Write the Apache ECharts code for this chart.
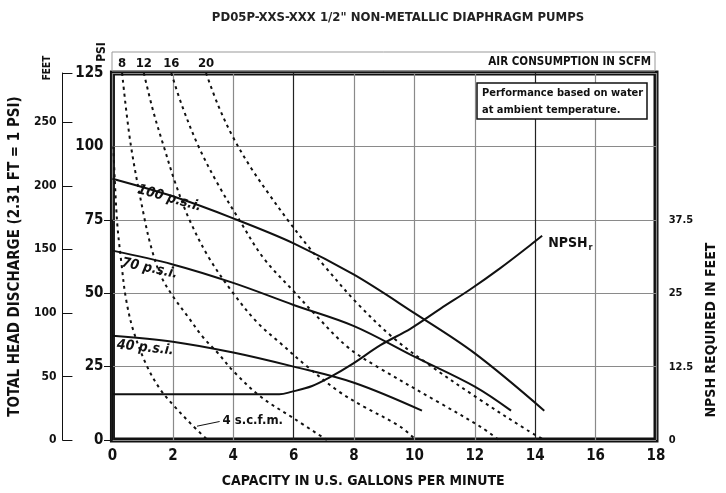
<!DOCTYPE html>
<html>
<head>
<meta charset="utf-8">
<script src="https://cdn.jsdelivr.net/npm/echarts@6/dist/echarts.min.js"></script>
<style>
  html, body { margin: 0; padding: 0; background: #fff; }
  #chart { width: 726px; height: 493px; }
</style>
</head>
<body>
<div id="chart"></div>
<script>
// performance curves, capacity (gpm) -> discharge head (psi)
const psi100X = [0, 2, 4, 6, 8, 10, 12, 14.3];
const psi100Y = [89, 83, 75.5, 67, 56.3, 43.2, 29.5, 10];
const psi70X = [0, 2, 4, 6, 8, 10, 12, 13.2];
const psi70Y = [64.5, 59.8, 53.5, 46, 38.8, 28.4, 18.2, 10];
const psi40X = [0, 2, 4, 6, 8, 10.25];
const psi40Y = [35.5, 33.5, 29.8, 25, 19.5, 10];

// NPSH required, in feet (right hand scale)
const npshX = [0, 5.6, 6.0, 6.7, 7.3, 8, 9, 10, 11, 12, 13, 14, 14.4];
const npshY = [7.8, 7.8, 8.2, 9.2, 10.7, 12.8, 16.2, 19, 22.4, 25.7, 29.3, 33.2, 34.8];

// air consumption lines (scfm), psi
const scfm4X = [0.03, 0.15, 0.3, 0.45, 0.7, 1.15, 1.6, 2.05, 2.6, 3.15];
const scfm4Y = [100, 75, 60, 48, 37, 25, 17, 11.5, 5.5, 0];
const scfm8X = [0.32, 0.6, 1.05, 1.3, 1.6, 2.0, 2.5, 3.0, 3.5, 4.0, 4.9, 6.0, 7.1];
const scfm8Y = [125, 101, 76, 65, 56, 49, 42, 35, 29.5, 23.5, 14.8, 7.4, 0];
const scfm12X = [1.04, 1.35, 1.7, 2.1, 2.55, 3.2, 4.0, 4.8, 5.56, 6.45, 7.5, 8.32, 9.54, 10.05];
const scfm12Y = [125, 112, 100, 87, 75, 62, 50, 40, 33, 25, 16.5, 11.4, 4.5, 0];
const scfm16X = [1.95, 2.3, 2.85, 3.5, 4.2, 5.0, 6.06, 6.67, 7.77, 8.76, 10.86, 12.19, 12.8];
const scfm16Y = [125, 114, 100, 87, 75, 62, 50, 43.2, 31.8, 25, 12.5, 4.5, 0];
const scfm20X = [3.1, 3.5, 4.0, 4.6, 5.2, 5.8, 6.4, 7.0, 8.1, 9.31, 10.42, 12.19, 13.73, 14.3];
const scfm20Y = [125, 114, 103, 92.5, 83.5, 75, 67, 59.5, 46.6, 34.7, 26.1, 13.6, 3.4, 0];

// axes
const gpmMax = 18;
const psiMax = 125;
const ftPerPsi = 2.31;
const npshMax = 37.5;

const FONT = "'Liberation Sans Narrow', 'DejaVu Sans Condensed', 'Liberation Sans', sans-serif";
const INK = '#111';

function pairs(xs, ys) {
    return xs.map(function (x, i) { return [x, ys[i]]; });
}

// solid pump curve with its rotated p.s.i. tag
function pumpCurve(name, xs, ys, tagAt, tagRotate) {
    return {
        name: name,
        type: 'line',
        data: pairs(xs, ys),
        smooth: 0.35,
        showSymbol: false,
        lineStyle: { color: INK, width: 2 },
        markPoint: {
            symbol: 'circle',
            symbolSize: 0,
            data: [{ coord: tagAt, value: name }],
            label: {
                show: true,
                position: 'inside',
                formatter: '{c}',
                rotate: tagRotate,
                color: INK,
                fontFamily: FONT,
                fontStyle: 'italic',
                fontWeight: 'bold',
                fontSize: 14
            }
        }
    };
}

// dashed air consumption line, labelled at the top edge
function airLine(name, xs, ys, topLabel) {
    const s = {
        name: name,
        type: 'line',
        data: pairs(xs, ys),
        smooth: 0.35,
        showSymbol: false,
        lineStyle: { color: INK, width: 2, type: [3, 4] }
    };
    if (topLabel) {
        s.markPoint = {
            symbol: 'circle',
            symbolSize: 0,
            data: [{ coord: [xs[0], ys[0]], value: name }],
            label: {
                show: true,
                position: 'top',
                distance: 3,
                formatter: '{c}',
                color: INK,
                fontFamily: FONT,
                fontWeight: 'bold',
                fontSize: 13
            }
        };
    }
    return s;
}

const chart = echarts.init(document.getElementById('chart'));

const splitColors = ['#8a8a8a', '#8a8a8a', '#8a8a8a', '#222', '#8a8a8a', '#8a8a8a', '#8a8a8a', '#222', '#8a8a8a', '#8a8a8a'];

const scfm4 = airLine('4', scfm4X, scfm4Y, false);
scfm4.markLine = {
    silent: true,
    symbol: ['none', 'none'],
    lineStyle: { color: INK, width: 1, type: 'solid' },
    data: [[{ coord: [2.8, 4.7] }, { coord: [3.55, 6.3] }]],
    label: {
        show: true,
        position: 'end',
        distance: 3,
        formatter: '4 s.c.f.m.',
        color: INK,
        fontFamily: FONT,
        fontWeight: 'bold',
        fontSize: 13
    }
};

const optionData = {
    animation: false,
    backgroundColor: '#fff',
    title: {
        text: 'PD05P-XXS-XXX 1/2" NON-METALLIC DIAPHRAGM PUMPS',
        left: 393,
        top: 6,
        textAlign: 'center',
        textStyle: { fontFamily: FONT, fontWeight: 'bold', fontSize: 13, color: '#222' }
    },
    grid: [
        { left: 112, right: 70, top: 73, bottom: 53, show: true, borderWidth: 5, borderColor: INK },
        { left: 112, right: 70, top: 220, bottom: 53, show: false }
    ],
    xAxis: [
        {
            type: 'value',
            gridIndex: 0,
            min: 0,
            max: gpmMax,
            interval: 2,
            name: 'CAPACITY IN U.S. GALLONS PER MINUTE',
            nameLocation: 'middle',
            nameGap: 34,
            nameTextStyle: { fontFamily: FONT, fontWeight: 'bold', fontSize: 14, color: INK, padding: [0, 42, 0, 0] },
            axisLine: { show: false },
            axisTick: { show: false },
            axisLabel: { margin: 9, fontFamily: FONT, fontWeight: 'bold', fontSize: 15, color: INK },
            splitLine: { show: true, lineStyle: { color: splitColors, width: 1.2 } }
        },
        { type: 'value', gridIndex: 1, min: 0, max: gpmMax, show: false }
    ],
    yAxis: [
        {
            type: 'value',
            gridIndex: 0,
            min: 0,
            max: psiMax,
            interval: 25,
            axisLine: { show: false },
            axisTick: { show: false },
            axisLabel: { margin: 9, fontFamily: FONT, fontWeight: 'bold', fontSize: 15, color: INK },
            splitLine: { show: true, lineStyle: { color: '#8a8a8a', width: 1.2 } }
        },
        {
            type: 'value',
            gridIndex: 0,
            position: 'left',
            offset: 50,
            min: 0,
            max: psiMax * ftPerPsi,
            interval: 50,
            name: 'TOTAL HEAD DISCHARGE (2.31 FT = 1 PSI)',
            nameLocation: 'middle',
            nameGap: 34,
            nameTextStyle: { fontFamily: FONT, fontWeight: 'bold', fontSize: 15, color: INK },
            axisLine: { show: true, lineStyle: { color: INK, width: 1 } },
            axisTick: { show: true, inside: true, length: 10, lineStyle: { color: INK } },
            axisLabel: {
                margin: 6,
                fontFamily: FONT, fontWeight: 'bold', fontSize: 12, color: INK,
                formatter: function (v) { return v % 50 === 0 ? String(v) : ''; }
            },
            splitLine: { show: false }
        },
        {
            type: 'value',
            gridIndex: 1,
            position: 'right',
            offset: 14,
            min: 0,
            max: npshMax,
            interval: 12.5,
            name: 'NPSH REQUIRED IN FEET',
            nameLocation: 'middle',
            nameGap: 38,
            nameTextStyle: { fontFamily: FONT, fontWeight: 'bold', fontSize: 14, color: INK },
            axisLine: { show: true, lineStyle: { color: INK, width: 1 } },
            axisTick: { show: true, inside: true, length: 8, lineStyle: { color: INK } },
            axisLabel: { margin: 5, fontFamily: FONT, fontWeight: 'bold', fontSize: 11, color: INK },
            splitLine: { show: false }
        }
    ],
    series: [
        pumpCurve('100 p.s.i.', psi100X, psi100Y, [1.89, 82.3], -16),
        pumpCurve('70 p.s.i.', psi70X, psi70Y, [1.23, 58.4], -12),
        pumpCurve('40 p.s.i.', psi40X, psi40Y, [1.09, 31.4], -6),
        {
            name: 'NPSH',
            type: 'line',
            xAxisIndex: 1,
            yAxisIndex: 2,
            data: pairs(npshX, npshY),
            smooth: 0.35,
            showSymbol: false,
            lineStyle: { color: INK, width: 2 },
            endLabel: {
                show: true,
                distance: 6,
                offset: [0, 8],
                formatter: '{a|NPSH}{b|r}',
                rich: {
                    a: { fontFamily: FONT, fontWeight: 'bold', fontSize: 14, color: INK },
                    b: { fontFamily: FONT, fontWeight: 'bold', fontSize: 9, color: INK, padding: [8, 0, 0, 1] }
                }
            }
        },
        scfm4,
        airLine('8', scfm8X, scfm8Y, true),
        airLine('12', scfm12X, scfm12Y, true),
        airLine('16', scfm16X, scfm16Y, true),
        airLine('20', scfm20X, scfm20Y, true)
    ],
    graphic: [
        {
            type: 'rect', z: 100,
            shape: { x: 112, y: 52, width: 543, height: 19 },
            style: { fill: 'none', stroke: '#999', lineWidth: 1 }
        },
        {
            type: 'text', z: 100, x: 651, y: 62,
            style: { text: 'AIR CONSUMPTION IN SCFM', align: 'right', verticalAlign: 'middle',
                     fontFamily: FONT, fontWeight: 'bold', fontSize: 11.5, fill: INK }
        },
        {
            type: 'text', z: 100, x: 102, y: 52, rotation: Math.PI / 2,
            style: { text: 'PSI', align: 'center', verticalAlign: 'middle',
                     fontFamily: FONT, fontWeight: 'bold', fontSize: 12, fill: INK }
        },
        {
            type: 'text', z: 100, x: 47, y: 68, rotation: Math.PI / 2,
            style: { text: 'FEET', align: 'center', verticalAlign: 'middle',
                     fontFamily: FONT, fontWeight: 'bold', fontSize: 10, fill: INK }
        },
        {
            type: 'rect', z: 100,
            shape: { x: 477, y: 83, width: 170, height: 36 },
            style: { fill: '#fff', stroke: INK, lineWidth: 1.5 }
        },
        {
            type: 'text', z: 101, x: 482, y: 93,
            style: { text: 'Performance based on water', verticalAlign: 'middle',
                     fontFamily: FONT, fontWeight: 'bold', fontSize: 11, fill: INK }
        },
        {
            type: 'text', z: 101, x: 482, y: 110,
            style: { text: 'at ambient temperature.', verticalAlign: 'middle',
                     fontFamily: FONT, fontWeight: 'bold', fontSize: 11, fill: INK }
        }
    ]
};

chart.setOption(optionData);
</script>
</body>
</html>
